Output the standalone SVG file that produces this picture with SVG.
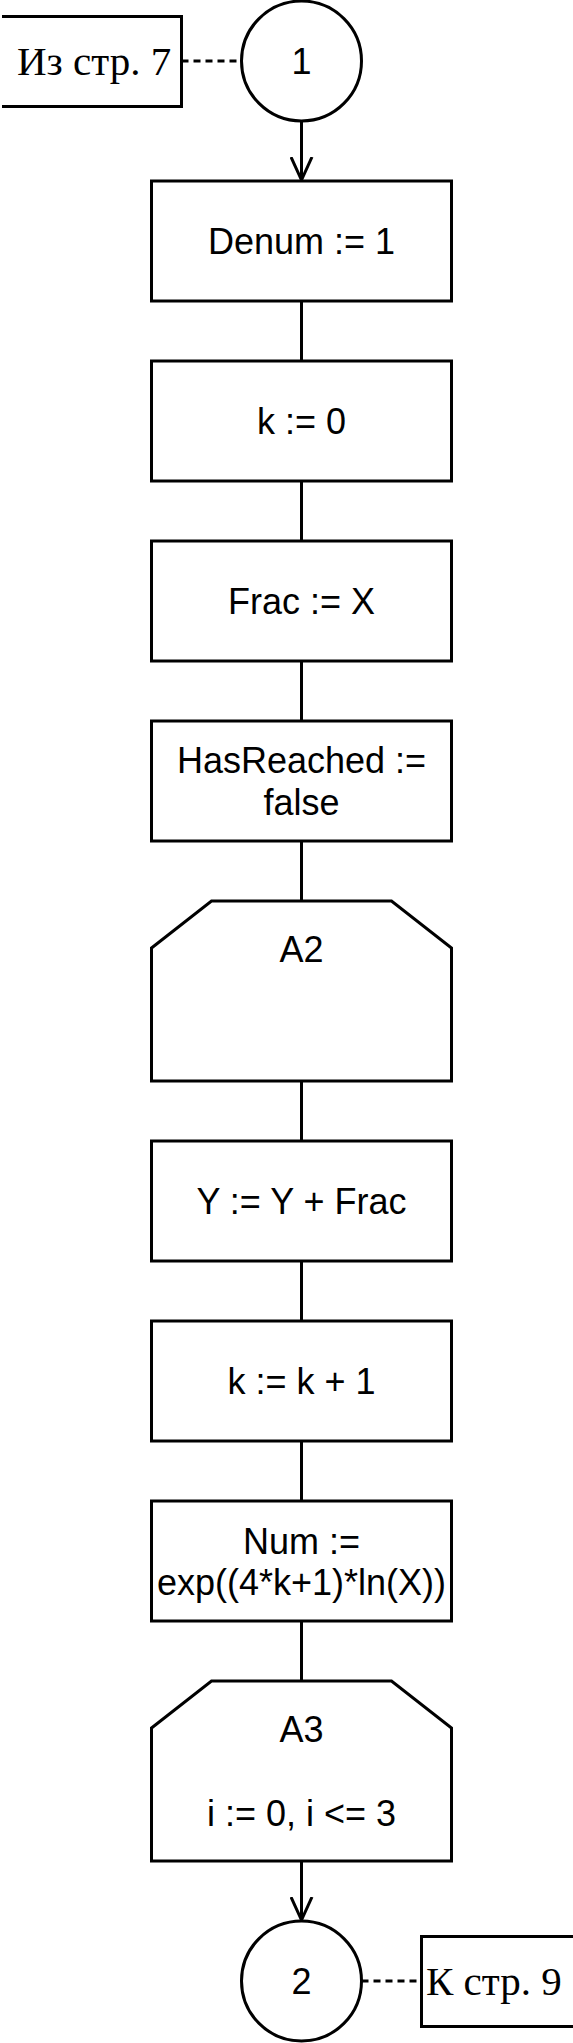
<svg xmlns="http://www.w3.org/2000/svg" width="573" height="2043" viewBox="0 0 573 2043">
<style>
.s{fill:#fff;stroke:#000;stroke-width:3}
.o{fill:none;stroke:#000;stroke-width:3}
.t{font-family:"Liberation Sans",Arial,sans-serif;font-size:36px;fill:#000;text-anchor:middle}
.r{font-family:"Liberation Serif","Times New Roman",serif;font-size:41px;fill:#000}
.c{fill:none;stroke:#000;stroke-width:3}
.d{fill:none;stroke:#000;stroke-width:3;stroke-dasharray:7 5}
</style>
<defs>
<marker id="arr" markerUnits="userSpaceOnUse" viewBox="0 0 24 24" refX="23" refY="12" markerWidth="24" markerHeight="24" orient="auto">
<path d="M0,1.5 L23,12 L0,22.5" fill="none" stroke="#000" stroke-width="3"/>
</marker>
</defs>
<g id="connectors">
<line class="c" x1="301.5" y1="121" x2="301.5" y2="180" marker-end="url(#arr)"/>
<line class="c" x1="301.5" y1="301" x2="301.5" y2="361"/>
<line class="c" x1="301.5" y1="481" x2="301.5" y2="541"/>
<line class="c" x1="301.5" y1="661" x2="301.5" y2="721"/>
<line class="c" x1="301.5" y1="841" x2="301.5" y2="901"/>
<line class="c" x1="301.5" y1="1081" x2="301.5" y2="1141"/>
<line class="c" x1="301.5" y1="1261" x2="301.5" y2="1321"/>
<line class="c" x1="301.5" y1="1441" x2="301.5" y2="1501"/>
<line class="c" x1="301.5" y1="1621" x2="301.5" y2="1681"/>
<line class="c" x1="301.5" y1="1861" x2="301.5" y2="1920" marker-end="url(#arr)"/>
<line class="d" x1="181.5" y1="61" x2="241.5" y2="61"/>
<line class="d" x1="361.5" y1="1981" x2="421.5" y2="1981"/>
</g>
<g id="from-page">
<path class="o" d="M2,16.5 H181.5 V106.5 H2"/>
<text class="r" x="17" y="75">Из стр. 7</text>
</g>
<g id="conn1">
<circle class="s" cx="301.5" cy="61" r="60"/>
<text class="t" x="301.5" y="74">1</text>
</g>
<g id="denum">
<rect class="s" x="151.5" y="181" width="300" height="120"/>
<text class="t" x="301.5" y="254">Denum := 1</text>
</g>
<g id="k0">
<rect class="s" x="151.5" y="361" width="300" height="120"/>
<text class="t" x="301.5" y="434">k := 0</text>
</g>
<g id="frac">
<rect class="s" x="151.5" y="541" width="300" height="120"/>
<text class="t" x="301.5" y="614">Frac := X</text>
</g>
<g id="hasreached">
<rect class="s" x="151.5" y="721" width="300" height="120"/>
<text class="t" x="301.5" y="773">HasReached :=</text>
<text class="t" x="301.5" y="815">false</text>
</g>
<g id="a2">
<path class="s" d="M151.5,948 L211.5,901 H391.5 L451.5,948 V1081 H151.5 Z"/>
<text class="t" x="301.5" y="962">A2</text>
</g>
<g id="y">
<rect class="s" x="151.5" y="1141" width="300" height="120"/>
<text class="t" x="301.5" y="1214">Y := Y + Frac</text>
</g>
<g id="kinc">
<rect class="s" x="151.5" y="1321" width="300" height="120"/>
<text class="t" x="301.5" y="1394">k := k + 1</text>
</g>
<g id="num">
<rect class="s" x="151.5" y="1501" width="300" height="120"/>
<text class="t" x="301.5" y="1554">Num :=</text>
<text class="t" x="301.5" y="1595">exp((4*k+1)*ln(X))</text>
</g>
<g id="a3">
<path class="s" d="M151.5,1728 L211.5,1681 H391.5 L451.5,1728 V1861 H151.5 Z"/>
<text class="t" x="301.5" y="1742">A3</text>
<text class="t" x="301.5" y="1826">i := 0, i &lt;= 3</text>
</g>
<g id="conn2">
<circle class="s" cx="301.5" cy="1981" r="60"/>
<text class="t" x="301.5" y="1994">2</text>
</g>
<g id="to-page">
<path class="o" d="M575,1936.5 H421.5 V2026.5 H575"/>
<text class="r" x="426" y="1995">К стр. 9</text>
</g>
</svg>
